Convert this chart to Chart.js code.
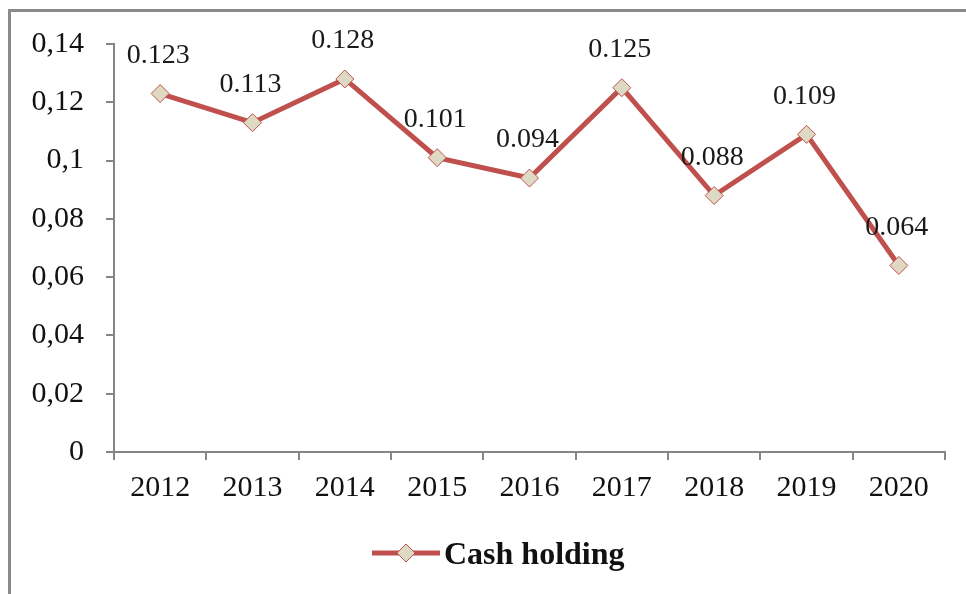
<!DOCTYPE html>
<html>
<head>
<meta charset="utf-8">
<script src="https://cdn.jsdelivr.net/npm/chart.js@4"></script>
<style>
  html, body { margin: 0; padding: 0; background: #fff; }
  #wrap { position: relative; width: 966px; height: 594px; }
  #frame {
    position: absolute; left: 8px; top: 9px; right: 0; bottom: 0;
    border-top: 3px solid #8a8a8a; border-left: 3px solid #8a8a8a;
    pointer-events: none;
  }
</style>
</head>
<body>
<div id="wrap">
  <canvas id="chart" width="966" height="594"></canvas>
  <div id="frame"></div>
</div>
<script>
// chart data
const years = ["2012", "2013", "2014", "2015", "2016", "2017", "2018", "2019", "2020"];
const cashHolding = [0.123, 0.113, 0.128, 0.101, 0.094, 0.125, 0.088, 0.109, 0.064];
const dataLabels = ["0.123", "0.113", "0.128", "0.101", "0.094", "0.125", "0.088", "0.109", "0.064"];
const yTickLabels = ["0", "0,02", "0,04", "0,06", "0,08", "0,1", "0,12", "0,14"];
const seriesName = "Cash holding";

const lineColor = "#c0504d";
const markerFill = "#ddd9c3";
const axisColor = "#868686";
const serif = "'Liberation Serif', 'Times New Roman', serif";

// value labels above points + legend under the axis
const extras = {
  id: "extras",
  afterDatasetsDraw(chart) {
    const ctx = chart.ctx;
    const meta = chart.getDatasetMeta(0);
    ctx.save();
    ctx.fillStyle = "#1a1a1a";
    ctx.font = "28px " + serif;
    ctx.textAlign = "center";
    ctx.textBaseline = "middle";
    meta.data.forEach((pt, i) => {
      ctx.fillText(dataLabels[i], pt.x - 2, pt.y - 38);
    });
    ctx.restore();
  },
  afterDraw(chart) {
    const ctx = chart.ctx;
    const y = 553;
    ctx.save();
    ctx.strokeStyle = lineColor;
    ctx.lineWidth = 5;
    ctx.beginPath();
    ctx.moveTo(372, y);
    ctx.lineTo(440, y);
    ctx.stroke();
    ctx.beginPath();
    ctx.moveTo(406, y - 9);
    ctx.lineTo(415, y);
    ctx.lineTo(406, y + 9);
    ctx.lineTo(397, y);
    ctx.closePath();
    ctx.fillStyle = markerFill;
    ctx.fill();
    ctx.lineWidth = 1;
    ctx.stroke();
    ctx.fillStyle = "#111";
    ctx.font = "bold 32px " + serif;
    ctx.textAlign = "left";
    ctx.textBaseline = "alphabetic";
    ctx.fillText(seriesName, 444, 564);
    ctx.restore();
  }
};

new Chart(document.getElementById("chart"), {
  type: "line",
  data: {
    labels: years,
    datasets: [{
      label: seriesName,
      data: cashHolding,
      borderColor: lineColor,
      borderWidth: 5,
      tension: 0,
      pointStyle: "rectRot",
      pointRadius: 9,
      pointHoverRadius: 9,
      pointBackgroundColor: markerFill,
      pointBorderColor: lineColor,
      pointBorderWidth: 1
    }]
  },
  options: {
    responsive: false,
    animation: false,
    events: [],
    layout: { padding: { left: 0, top: 44, right: 21, bottom: 82 } },
    plugins: {
      legend: { display: false },
      tooltip: { enabled: false }
    },
    scales: {
      x: {
        offset: true,
        grid: { offset: true, drawOnChartArea: false, drawTicks: true, tickLength: 8, color: axisColor, lineWidth: 2 },
        border: { color: axisColor, width: 2 },
        ticks: { color: "#111", font: { family: serif, size: 30 }, padding: 10, maxRotation: 0, autoSkip: false },
        afterFit(scale) { scale.height = 60; }
      },
      y: {
        min: 0,
        max: 0.14,
        ticks: {
          stepSize: 0.02,
          color: "#111",
          font: { family: serif, size: 30 },
          padding: 22,
          callback: (v, i) => yTickLabels[i]
        },
        grid: { drawOnChartArea: false, drawTicks: true, tickLength: 8, color: axisColor, lineWidth: 2 },
        border: { color: axisColor, width: 2 },
        afterFit(scale) { scale.width = 114; }
      }
    }
  },
  plugins: [extras]
});
</script>
</body>
</html>
